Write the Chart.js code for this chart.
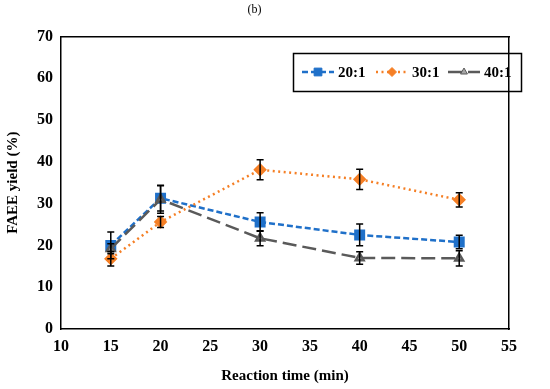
<!DOCTYPE html>
<html>
<head>
<meta charset="utf-8">
<script src="https://cdn.jsdelivr.net/npm/chart.js@4.4.1/dist/chart.umd.min.js"></script>
<style>
  html, body { margin: 0; padding: 0; background: #fff; }
  #wrap { width: 550px; height: 389px; }
</style>
</head>
<body>
<div id="wrap"><canvas id="chart" width="550" height="389"></canvas></div>
<script>
const times = [15, 20, 30, 40, 50];
const seriesNames = ['20:1', '30:1', '40:1'];
const yield20 = [20.0, 31.3, 25.6, 22.5, 20.8];
const yield30 = [16.8, 25.6, 38.1, 35.8, 30.9];
const yield40 = [19.2, 31.0, 21.7, 17.0, 16.9];
const err20 = [3.2, 3.1, 2.2, 2.6, 1.6];
const err30 = [1.7, 1.3, 2.4, 2.4, 1.7];
const err40 = [1.2, 3.3, 1.8, 1.5, 1.8];
const xTicks = [10, 15, 20, 25, 30, 35, 40, 45, 50, 55];
const yTicks = [0, 10, 20, 30, 40, 50, 60, 70];

const serif = "'Liberation Serif', 'Times New Roman', serif";

function pts(ys) {
  return times.map((t, i) => ({ x: t, y: ys[i] }));
}

// error bars + boxed legend inside the plot
const extras = {
  id: 'extras',
  afterDatasetsDraw(chart) {
    const ctx = chart.ctx;
    const xs = chart.scales.x, ys = chart.scales.y;
    ctx.save();
    ctx.strokeStyle = '#000';
    ctx.lineWidth = 1.5;
    chart.data.datasets.forEach(ds => {
      ds.data.forEach((p, i) => {
        const e = ds.errors[i];
        const px = xs.getPixelForValue(p.x);
        const top = ys.getPixelForValue(p.y + e);
        const bot = ys.getPixelForValue(p.y - e);
        ctx.beginPath();
        ctx.moveTo(px, top); ctx.lineTo(px, bot);
        ctx.moveTo(px - 3.5, top); ctx.lineTo(px + 3.5, top);
        ctx.moveTo(px - 3.5, bot); ctx.lineTo(px + 3.5, bot);
        ctx.stroke();
      });
    });
    ctx.restore();
  },
  afterDraw(chart) {
    const ctx = chart.ctx;
    ctx.save();
    ctx.strokeStyle = '#000';
    ctx.lineWidth = 1.5;
    ctx.strokeRect(293.5, 53.5, 228, 38);
    const starts = [302, 376, 448];
    const y = 72;
    ctx.font = 'bold 15px ' + serif;
    ctx.textBaseline = 'middle';
    chart.data.datasets.forEach((ds, i) => {
      const x0 = starts[i];
      ctx.strokeStyle = ds.borderColor;
      ctx.lineWidth = ds.borderWidth;
      ctx.setLineDash(ds.borderDash);
      ctx.beginPath();
      ctx.moveTo(x0, y); ctx.lineTo(x0 + 32, y);
      ctx.stroke();
      ctx.setLineDash([]);
      ctx.fillStyle = ds.pointBackgroundColor;
      ctx.strokeStyle = ds.pointBorderColor;
      ctx.lineWidth = 1;
      Chart.helpers.drawPoint(ctx, {
        pointStyle: ds.pointStyle,
        radius: ds.pointRadius - 0.5,
        borderWidth: 1
      }, x0 + 16, y);
      ctx.fillStyle = '#000';
      ctx.fillText(ds.label, x0 + 36, y + 1);
    });
    ctx.restore();
  }
};

new Chart(document.getElementById('chart').getContext('2d'), {
  type: 'line',
  data: {
    datasets: [
      {
        label: seriesNames[0],
        data: pts(yield20),
        errors: err20,
        borderColor: '#1f70c9',
        borderWidth: 2.5,
        borderDash: [6, 3],
        pointStyle: 'rect',
        pointRadius: 6,
        pointBackgroundColor: '#1f70c9',
        pointBorderColor: '#1f70c9',
        order: 3
      },
      {
        label: seriesNames[1],
        data: pts(yield30),
        errors: err30,
        borderColor: '#f57f25',
        borderWidth: 2.5,
        borderDash: [2, 3.5],
        pointStyle: 'rectRot',
        pointRadius: 5,
        pointBackgroundColor: '#f57f25',
        pointBorderColor: '#f57f25',
        order: 2
      },
      {
        label: seriesNames[2],
        data: pts(yield40),
        errors: err40,
        borderColor: '#5a5a5a',
        borderWidth: 2.5,
        borderDash: [14, 6],
        pointStyle: 'triangle',
        pointRadius: 4.5,
        pointBackgroundColor: '#a6a6a6',
        pointBorderColor: '#5a5a5a',
        order: 1
      }
    ]
  },
  options: {
    responsive: false,
    animation: false,
    layout: { padding: { left: 0, right: 41, top: 0, bottom: 0 } },
    plugins: {
      legend: { display: false },
      tooltip: { enabled: false },
      title: {
        display: true,
        text: '(b)',
        color: '#000',
        font: { family: serif, size: 12, weight: 'normal' },
        padding: { top: 3, bottom: 19 }
      }
    },
    scales: {
      x: {
        type: 'linear',
        min: 10,
        max: 55,
        afterBuildTicks: s => { s.ticks = xTicks.map(v => ({ value: v })); },
        afterFit: s => { s.height = 60; },
        grid: { display: false, drawTicks: true, tickLength: 4, tickColor: '#000', tickWidth: 1.5 },
        border: { color: '#000', width: 1.5 },
        ticks: { color: '#000', font: { family: serif, size: 16, weight: 'bold' }, padding: 4, maxRotation: 0 },
        title: {
          display: true,
          text: 'Reaction time (min)',
          color: '#000',
          font: { family: serif, size: 15, weight: 'bold' },
          padding: { top: 4 }
        }
      },
      y: {
        min: 0,
        max: 70,
        afterBuildTicks: s => { s.ticks = yTicks.map(v => ({ value: v })); },
        afterFit: s => { s.width = 61; },
        grid: { display: false, drawTicks: true, tickLength: 4, tickColor: '#000', tickWidth: 1.5 },
        border: { color: '#000', width: 1.5 },
        ticks: { color: '#000', font: { family: serif, size: 16, weight: 'bold' }, padding: 4 },
        title: {
          display: true,
          text: 'FAEE yield (%)',
          color: '#000',
          font: { family: serif, size: 15, weight: 'bold' },
          padding: { bottom: 2 }
        }
      },
      x2: {
        type: 'linear', position: 'top', min: 10, max: 55,
        ticks: { display: false }, grid: { display: false, drawTicks: false },
        border: { color: '#000', width: 1.5 }, afterFit: s => { s.height = 0; }
      },
      y2: {
        position: 'right', min: 0, max: 70,
        ticks: { display: false }, grid: { display: false, drawTicks: false },
        border: { color: '#000', width: 1.5 }, afterFit: s => { s.width = 0; }
      }
    }
  },
  plugins: [extras]
});
</script>
</body>
</html>
